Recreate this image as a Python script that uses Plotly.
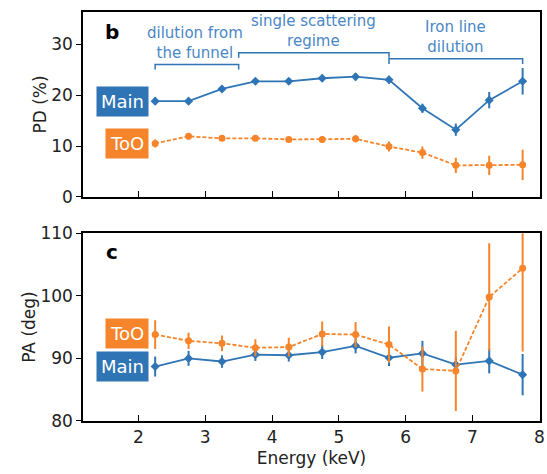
import plotly.graph_objects as go

# ---- data ----
energy = [2.25, 2.75, 3.25, 3.75, 4.25, 4.75, 5.25, 5.75, 6.25, 6.75, 7.25, 7.75]

pd_main = [18.8, 18.8, 21.2, 22.7, 22.7, 23.3, 23.6, 23.0, 17.4, 13.2, 19.0, 22.7]
pd_main_err = [0.7, 0.6, 0.6, 0.6, 0.6, 0.7, 0.7, 0.8, 0.9, 1.2, 1.6, 2.6]
pd_too = [10.5, 11.9, 11.5, 11.5, 11.3, 11.3, 11.4, 9.9, 8.7, 6.2, 6.2, 6.3]
pd_too_err = [0.8, 0.6, 0.5, 0.5, 0.5, 0.6, 0.7, 1.0, 1.2, 1.5, 1.9, 3.0]

pa_main = [88.7, 90.0, 89.5, 90.6, 90.5, 91.0, 92.0, 90.1, 90.8, 89.0, 89.6, 87.4]
pa_main_err = [1.6, 1.2, 1.0, 1.0, 1.0, 1.1, 1.2, 1.3, 2.0, 1.2, 2.0, 3.3]
pa_too = [93.8, 92.8, 92.4, 91.7, 91.8, 93.9, 93.8, 92.2, 88.3, 88.0, 99.8, 104.4]
pa_too_err = [2.3, 1.3, 1.25, 1.35, 1.5, 2.0, 2.0, 2.9, 3.6, 6.4, 8.6, 13.3]

x_ticks = [2, 3, 4, 5, 6, 7, 8]

regime_edges = [2.25, 3.5, 5.75, 7.75]
regime_levels = [26.0, 28.3, 27.1]
regime_labels = ["dilution from<br>the funnel", "single scattering<br>regime", "Iron line<br>dilution"]

BLUE = "#2f75b6"
ORANGE = "#f5842a"
TXT_BLUE = "#4a87c6"
FONT = "DejaVu Sans"

fig = go.Figure()

def add_series(x, y, err, color, dash, xa, ya, marker):
    fig.add_trace(go.Scatter(
        x=x, y=y, mode="lines+markers", xaxis=xa, yaxis=ya,
        line=dict(color=color, width=1.8, dash=dash),
        marker=dict(color=color, size=7, symbol=marker),
        error_y=dict(type="data", array=err, visible=True, color=color, thickness=2, width=0),
        showlegend=False))

add_series(energy, pd_main, pd_main_err, BLUE, "solid", "x", "y", "diamond")
add_series(energy, pd_too, pd_too_err, ORANGE, "4px,2px", "x", "y", "circle")
add_series(energy, pa_main, pa_main_err, BLUE, "solid", "x2", "y2", "diamond")
add_series(energy, pa_too, pa_too_err, ORANGE, "4px,2px", "x2", "y2", "circle")

# brackets for regimes
tick = 1.0
for i, lvl in enumerate(regime_levels):
    x0, x1 = regime_edges[i], regime_edges[i + 1]
    fig.add_trace(go.Scatter(
        x=[x0, x0, x1, x1], y=[lvl - tick, lvl, lvl, lvl - tick],
        mode="lines", line=dict(color=BLUE, width=1.5),
        xaxis="x", yaxis="y", showlegend=False, hoverinfo="skip"))

label_pos = [(2.85, 30.3), (4.62, 32.6), (6.75, 31.3)]
for (lx, ly), txt in zip(label_pos, regime_labels):
    fig.add_annotation(x=lx, y=ly, xref="x", yref="y", text=txt, showarrow=False,
                       font=dict(family=FONT, size=15, color=TXT_BLUE), align="center")

# panel letters
fig.add_annotation(x=1.6, y=32.3, xref="x", yref="y", text="<b>b</b>", showarrow=False,
                   font=dict(family=FONT, size=20, color="black"))
fig.add_annotation(x=1.6, y=107.0, xref="x2", yref="y2", text="<b>c</b>", showarrow=False,
                   font=dict(family=FONT, size=20, color="black"))

# series label boxes
def box(text, y, color, xa, ya):
    fig.add_annotation(x=2.16, y=y, xref=xa, yref=ya, text=text, showarrow=False,
                       xanchor="right", yanchor="middle", bgcolor=color, borderpad=4,
                       font=dict(family=FONT, size=18, color="white"))

box("Main", 18.75, BLUE, "x", "y")
box("ToO", 10.4, ORANGE, "x", "y")
box("ToO", 93.9, ORANGE, "x2", "y2")
box("Main", 88.75, BLUE, "x2", "y2")

axis_common = dict(showline=True, linecolor="black", linewidth=1.5, mirror=True,
                   showgrid=False, zeroline=False, tickcolor="black",
                   tickfont=dict(family=FONT, size=17, color="#222"))

fig.update_layout(
    width=547, height=474,
    margin=dict(l=83, r=2, t=3, b=53),
    plot_bgcolor="white", paper_bgcolor="white",
    xaxis=dict(domain=[0, 1], anchor="y", range=[1.17, 8.01], tickvals=x_ticks,
               showticklabels=False, ticks="inside", ticklen=6, **axis_common),
    yaxis=dict(domain=[0.5478, 1], anchor="x", range=[0, 36.3], tickvals=[0, 10, 20, 30],
               ticks="outside", ticklen=5,
               title=dict(text="PD (%)", font=dict(family=FONT, size=17, color="#222"), standoff=0),
               **axis_common),
    xaxis2=dict(domain=[0, 1], anchor="y2", range=[1.17, 8.01], tickvals=x_ticks,
                ticks="inside", ticklen=6, ticklabeloverflow="allow",
                title=dict(text="Energy (keV)", font=dict(family=FONT, size=17, color="#222"), standoff=6),
                **axis_common),
    yaxis2=dict(domain=[0, 0.4593], anchor="x2", range=[80, 110], tickvals=[80, 90, 100, 110],
                ticks="outside", ticklen=5,
                title=dict(text="PA (deg)", font=dict(family=FONT, size=17, color="#222"), standoff=0),
                **axis_common),
)

fig.write_html("out.html")
